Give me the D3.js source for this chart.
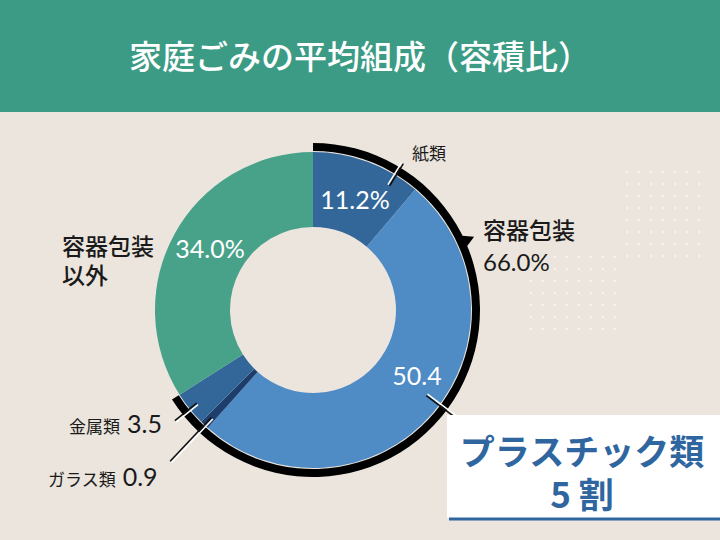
<!DOCTYPE html>
<html>
<head>
<meta charset="utf-8">
<script src="https://cdn.jsdelivr.net/npm/d3@7"></script>
<style>
  body { margin: 0; background: #ebe5de; }
  svg { display: block; }
  text { font-family: "Noto Sans CJK JP", "Noto Sans", sans-serif; }
  .num { font-family: Lato, "Noto Sans", sans-serif; }
</style>
</head>
<body>
<svg id="chart" width="720" height="540"></svg>
<script>
// data
const categories = ["紙類", "プラスチック類", "ガラス類", "金属類", "容器包装以外"];
const values = [11.2, 50.4, 0.9, 3.5, 34.0];
const sliceColors = ["#33679a", "#4f8bc5", "#1d3d6b", "#33679a", "#48a28a"];
const packagingTotal = 66.0;

const width = 720, height = 540;
const cx = 313, cy = 310;
const innerR = 83, outerR = 158;

const svg = d3.select("#chart");

svg.append("rect").attr("width", width).attr("height", height).attr("fill", "#ebe5de");

// title band
svg.append("rect")
    .attr("x", 0).attr("y", 0)
    .attr("width", width).attr("height", 112)
    .attr("fill", "#3b9b85");

svg.append("text")
    .attr("x", width / 2).attr("y", 69)
    .attr("text-anchor", "middle")
    .attr("fill", "#ffffff")
    .attr("font-size", 33)
    .attr("font-weight", 500)
    .text("家庭ごみの平均組成（容積比）");

// dotted decorations
function dotGrid(x0, y0, cols, rows) {
    const g = svg.append("g");
    for (let i = 0; i < cols; i++) {
        for (let j = 0; j < rows; j++) {
            g.append("circle")
                .attr("cx", x0 + i * 12)
                .attr("cy", y0 + j * 12)
                .attr("r", 1.1)
                .attr("fill", "#fbf8f4");
        }
    }
}
dotGrid(627, 172, 7, 8);
dotGrid(531, 257, 8, 7);

const g = svg.append("g").attr("transform", `translate(${cx},${cy})`);

const pie = d3.pie().sort(null).value(d => d)(values);

const arc = d3.arc().innerRadius(innerR).outerRadius(outerR);

g.selectAll("path.slice")
    .data(pie)
    .join("path")
    .attr("class", "slice")
    .attr("d", arc)
    .attr("fill", (d, i) => sliceColors[i]);

// black ring around the packaging share
const angleScale = d3.scaleLinear().domain([0, 100]).range([0, 2 * Math.PI]);
const ringEnd = angleScale(packagingTotal);
g.append("path")
    .attr("d", d3.arc().innerRadius(outerR + 1).outerRadius(outerR + 9)
        .startAngle(0).endAngle(ringEnd)())
    .attr("fill", "#000000");

// small arrow pointing to the 容器包装 label
const triA = angleScale(18.2);
function polar(a, r) { return [r * Math.sin(a), -r * Math.cos(a)]; }
const tip = polar(triA, outerR + 19);
const b1 = polar(triA - 0.045, outerR + 6);
const b2 = polar(triA + 0.045, outerR + 6);
g.append("path")
    .attr("d", `M${b1}L${tip}L${b2}Z`)
    .attr("fill", "#000000");

// leader lines (white + black pair)
function leader(a, r0, r1) {
    const p0 = polar(a, r0), p1 = polar(a, r1);
    const off = [2 * Math.cos(a), 2 * Math.sin(a)];
    g.append("line")
        .attr("x1", p0[0] - off[0]).attr("y1", p0[1] - off[1])
        .attr("x2", p1[0] - off[0]).attr("y2", p1[1] - off[1])
        .attr("stroke", "#ffffff").attr("stroke-width", 1.6);
    g.append("line")
        .attr("x1", p0[0]).attr("y1", p0[1])
        .attr("x2", p1[0]).attr("y2", p1[1])
        .attr("stroke", "#111111").attr("stroke-width", 1.6);
}
const mid = d => (d.startAngle + d.endAngle) / 2;
leader(angleScale(8.8), 146, 172);
leader(angleScale(35.3), 142, 184);
leader(mid(pie[2]), 148, 208);
leader(mid(pie[3]), 149, 177);

// values inside slices
const fmt = d3.format(".1f");
g.append("text").attr("class", "num")
    .attr("x", 42).attr("y", -101)
    .attr("text-anchor", "middle").attr("fill", "#fff")
    .attr("font-size", 25).text(fmt(values[0]) + "%");
g.append("text").attr("class", "num")
    .attr("x", 104).attr("y", 75)
    .attr("text-anchor", "middle").attr("fill", "#fff")
    .attr("font-size", 25).text(fmt(values[1]));
g.append("text").attr("class", "num")
    .attr("x", -103).attr("y", -52)
    .attr("text-anchor", "middle").attr("fill", "#fff")
    .attr("font-size", 25).text(fmt(values[4]) + "%");

// outside labels
svg.append("text")
    .attr("x", 412).attr("y", 160)
    .attr("font-size", 17).attr("fill", "#1a1a1a")
    .text(categories[0]);

svg.append("text")
    .attr("x", 483).attr("y", 239)
    .attr("font-size", 23).attr("font-weight", 500).attr("fill", "#1a1a1a")
    .text("容器包装");
svg.append("text").attr("class", "num")
    .attr("x", 483).attr("y", 271)
    .attr("font-size", 24).attr("fill", "#1a1a1a")
    .text(fmt(packagingTotal) + "%");

svg.append("text")
    .attr("x", 62).attr("y", 255)
    .attr("font-size", 23).attr("font-weight", 500).attr("fill", "#1a1a1a")
    .text("容器包装");
svg.append("text")
    .attr("x", 62).attr("y", 284)
    .attr("font-size", 23).attr("font-weight", 500).attr("fill", "#1a1a1a")
    .text("以外");

const metal = svg.append("text").attr("x", 69).attr("y", 433).attr("fill", "#1a1a1a");
metal.append("tspan").attr("font-size", 17).text(categories[3]);
metal.append("tspan").attr("class", "num").attr("dx", 7).attr("font-size", 25).text(fmt(values[3]));

const glass = svg.append("text").attr("x", 48).attr("y", 486).attr("fill", "#1a1a1a");
glass.append("tspan").attr("font-size", 17).text(categories[2]);
glass.append("tspan").attr("class", "num").attr("dx", 7).attr("font-size", 25).text(fmt(values[2]));

// callout box
svg.append("rect")
    .attr("x", 447).attr("y", 415)
    .attr("width", 273).attr("height", 103)
    .attr("fill", "#ffffff");
svg.append("line")
    .attr("x1", 449).attr("y1", 519).attr("x2", 720).attr("y2", 519)
    .attr("stroke", "#2f66a0").attr("stroke-width", 3);
svg.append("text")
    .attr("x", 582).attr("y", 465)
    .attr("text-anchor", "middle")
    .attr("font-size", 35).attr("font-weight", 700).attr("fill", "#2f66a0")
    .text(categories[1]);
svg.append("text")
    .attr("x", 582).attr("y", 508)
    .attr("text-anchor", "middle")
    .attr("font-size", 35).attr("font-weight", 700).attr("fill", "#2f66a0")
    .text("5 割");
</script>
</body>
</html>
